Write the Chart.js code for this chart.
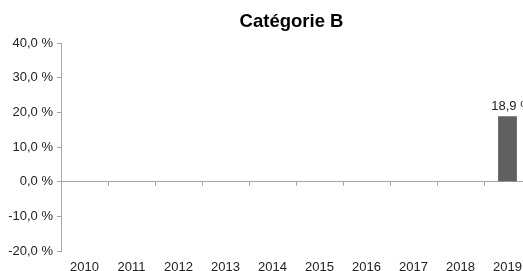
<!DOCTYPE html>
<html>
<head>
<meta charset="utf-8">
<script src="https://cdn.jsdelivr.net/npm/chart.js@4"></script>
<style>
  html, body { margin: 0; padding: 0; overflow: hidden; background: #fff; }
  #wrap { position: relative; width: 583px; height: 274px; }
</style>
</head>
<body>
<div id="wrap"><canvas id="myChart"></canvas></div>
<script>
const annees = ["2010", "2011", "2012", "2013", "2014", "2015", "2016", "2017", "2018", "2019"];
const valeurs = [null, null, null, null, null, null, null, null, null, 18.9];
const ticksY = [-20, -10, 0, 10, 20, 30, 40];

const gris = "#a6a6a6";
const police = "'Liberation Sans', Arial, sans-serif";

// format français : virgule + espace avant le %
const fmt = v => v.toFixed(1).replace(".", ",") + " %";

// petits traits sous la ligne du zéro, entre les années
const traitsZero = {
    id: "traitsZero",
    afterDraw(chart) {
        const xs = chart.scales.x, ys = chart.scales.y, c = chart.ctx;
        const y0 = ys.getPixelForValue(0);
        c.save();
        c.strokeStyle = gris;
        c.lineWidth = 1;
        for (let i = 1; i <= annees.length; i++) {
            const x = Math.round((xs.getPixelForValue(i - 1) + xs.getPixelForValue(i)) / 2) + 0.5;
            c.beginPath();
            c.moveTo(x, y0);
            c.lineTo(x, y0 + 4);
            c.stroke();
        }
        c.restore();
    }
};

// étiquette de valeur au-dessus des barres
const etiquettes = {
    id: "etiquettes",
    afterDatasetsDraw(chart) {
        const c = chart.ctx;
        c.save();
        c.font = "13px " + police;
        c.fillStyle = "#222";
        c.textAlign = "center";
        c.textBaseline = "alphabetic";
        chart.getDatasetMeta(0).data.forEach((bar, i) => {
            if (valeurs[i] == null) return;
            c.fillText(fmt(valeurs[i]), bar.x + 4, bar.y - 6);
        });
        c.restore();
    }
};

new Chart(document.querySelector("#myChart"), {
    type: "bar",
    data: {
        labels: annees,
        datasets: [{
            data: valeurs,
            backgroundColor: "#606060",
            barPercentage: 0.4,
            categoryPercentage: 1
        }]
    },
    options: {
        responsive: true,
        maintainAspectRatio: false,
        animation: false,
        plugins: {
            legend: { display: false },
            tooltip: { enabled: false },
            title: {
                display: true,
                text: "Catégorie B",
                color: "#000",
                font: { family: police, size: 18.5, weight: "bold" },
                padding: { top: 11, bottom: 10 }
            }
        },
        scales: {
            x: {
                offset: true,
                grid: { display: false, drawTicks: false },
                border: { display: false },
                ticks: {
                    color: "#222",
                    font: { family: police, size: 13 },
                    padding: 9,
                    maxRotation: 0,
                    autoSkip: false
                },
                afterFit: s => { s.height = 23; }
            },
            y: {
                min: -20,
                max: 40,
                afterBuildTicks: s => { s.ticks = ticksY.map(v => ({ value: v })); },
                grid: {
                    color: ctx => (ctx.tick && ctx.tick.value === 0 ? gris : "rgba(0,0,0,0)"),
                    tickColor: gris,
                    tickLength: 4,
                    drawTicks: true
                },
                border: { display: true, color: gris },
                ticks: {
                    color: "#222",
                    font: { family: police, size: 13 },
                    padding: 4,
                    callback: v => fmt(v)
                },
                afterFit: s => { s.width = 61; }
            },
            // espace vide à droite : la zone du graphique dépasse la fenêtre
            droite: {
                position: "right",
                display: true,
                grid: { display: false },
                border: { display: false },
                ticks: { display: false },
                afterFit: s => { s.width = 52; }
            }
        }
    },
    plugins: [traitsZero, etiquettes]
});
</script>
</body>
</html>
